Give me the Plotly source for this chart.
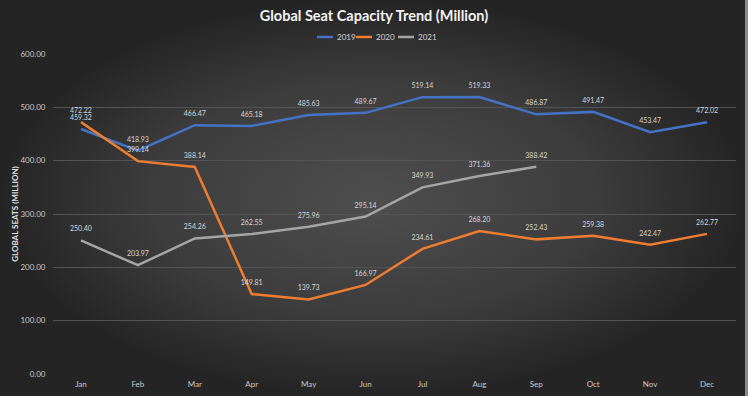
import plotly.graph_objects as go

months = ["Jan", "Feb", "Mar", "Apr", "May", "Jun", "Jul", "Aug", "Sep", "Oct", "Nov", "Dec"]
s2019 = [459.32, 418.93, 466.47, 465.18, 485.63, 489.67, 519.14, 519.33, 486.87, 491.47, 453.47, 472.02]
s2020 = [472.22, 399.14, 388.14, 149.81, 139.73, 166.97, 234.61, 268.20, 252.43, 259.38, 242.47, 262.77]
s2021 = [250.40, 203.97, 254.26, 262.55, 275.96, 295.14, 349.93, 371.36, 388.42]
y_ticks = [0, 100, 200, 300, 400, 500, 600]

W, H = 748, 396
x0, x1 = 52.5, 735.5
ytop, ybot = 54, 374
FONT = "Lato, sans-serif"

fig = go.Figure()

# background radial gradient
fig.add_trace(go.Scatter(
    x=[0, 1, 1, 0, 0], y=[0, 0, 1, 1, 0], mode="lines", fill="toself",
    line=dict(width=0), xaxis="x", yaxis="y", showlegend=False, hoverinfo="skip",
    fillgradient=dict(type="radial", colorscale=[[0, "#4e4e4e"], [0.6, "#3c3c3c"], [1, "#242424"]]),
))

series = [("2019", s2019, "#4472C4"), ("2020", s2020, "#ED7D31"), ("2021", s2021, "#A5A5A5")]
for name, vals, col in series:
    fig.add_trace(go.Scatter(
        x=months[:len(vals)], y=vals, name=name, mode="lines+markers+text",
        line=dict(color=col, width=2.5),
        marker=dict(size=10, color="rgba(0,0,0,0)"),
        text=[f"{v:.2f}" for v in vals], textposition="top center",
        textfont=dict(family=FONT, size=7, color="#d6d6d6"),
        xaxis="x2", yaxis="y2", cliponaxis=False, showlegend=False,
    ))

# custom compact legend
leg_y = 1 - 37 / H
leg_items = [("2019", "#4472C4", 317), ("2020", "#ED7D31", 356), ("2021", "#A5A5A5", 398)]
for name, col, lx in leg_items:
    fig.add_shape(type="line", xref="paper", yref="paper", x0=lx / W, x1=(lx + 16) / W,
                  y0=leg_y, y1=leg_y, line=dict(color=col, width=2.5))
    fig.add_annotation(text=name, xref="paper", yref="paper", x=(lx + 18) / W, y=leg_y,
                       xanchor="left", yanchor="middle", showarrow=False,
                       font=dict(family=FONT, size=8, color="#d6d6d6"))

fig.update_layout(
    width=W, height=H,
    margin=dict(l=0, r=0, t=0, b=0, autoexpand=False),
    paper_bgcolor="#333333", plot_bgcolor="rgba(0,0,0,0)",
    showlegend=False,
    hovermode=False,
    title=dict(text="<b>Global Seat Capacity Trend (Million)</b>", x=0.5, xanchor="center",
               y=1 - 16 / H, yanchor="middle", automargin=False,
               font=dict(family=FONT, size=14.5, color="#f2f2f2")),
    xaxis=dict(domain=[0, 1], range=[0, 1], visible=False, fixedrange=True, automargin=False),
    yaxis=dict(domain=[0, 1], range=[0, 1], visible=False, fixedrange=True, automargin=False),
    xaxis2=dict(domain=[x0 / W, x1 / W], anchor="y2", type="category",
                categoryorder="array", categoryarray=months, automargin=False,
                range=[-0.5, 11.5], showgrid=False, zeroline=False, showline=False,
                tickfont=dict(family=FONT, size=8, color="#c8c8c8"),
                ticks="", ticklabelstandoff=4),
    yaxis2=dict(domain=[(H - ybot) / H, (H - ytop) / H], anchor="x2", range=[0, 600],
                automargin=False,
                tickvals=y_ticks, ticktext=[f"{v:.2f}" for v in y_ticks],
                showgrid=True, gridcolor="#545454", gridwidth=1, zeroline=False,
                tickfont=dict(family=FONT, size=8, color="#c8c8c8"),
                ticks="", ticklabelstandoff=6,
                title=dict(text="<b>GLOBAL SEATS (MILLION)</b>", standoff=0,
                           font=dict(family=FONT, size=8, color="#e0e0e0"))),
)

fig.add_shape(type="rect", xref="paper", yref="paper", x0=745 / W, x1=1, y0=0, y1=1,
              fillcolor="#8a8a8a", line=dict(width=0), layer="above")

fig.write_html("out.html", config={"displayModeBar": False},
               post_script="document.body.style.margin='0';document.body.style.overflow='hidden';")
